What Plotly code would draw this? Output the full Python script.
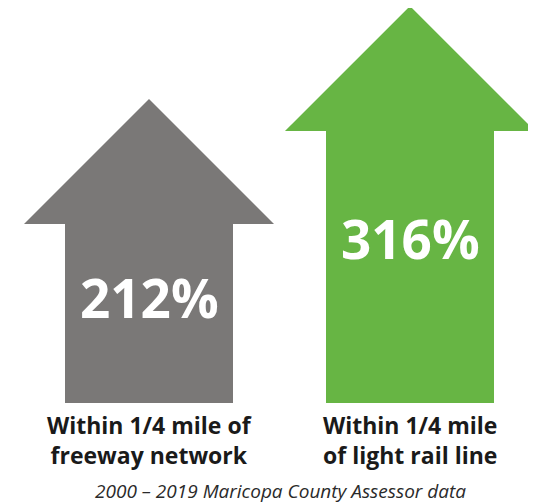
import plotly.graph_objects as go

# ---- data ----
label_line1 = ["Within 1/4 mile of", "Within 1/4 mile"]
label_line2 = ["freeway network", "of light rail line"]
values = [212, 316]                      # percent growth
value_labels = ["212%", "316%"]
colors = ["#7a7877", "#67b544"]
caption = "2000 – 2019 Maricopa County Assessor data"

# ---- geometry (styling) ----
W, H = 528, 495            # page body has an 8px margin
ARROW_BASE = -128          # value at which arrow shafts start
PX_PER_UNIT = 0.894        # vertical pixels per value unit
X_PX_PER_UNIT = 261        # horizontal pixels per category step
X0_PX = 141                # pixel centre of first category
BASE_PX = 395              # pixel row of arrow bottoms
HEAD_HALF_PX = 125
SHAFT_HALF_PX = 84

head_half = HEAD_HALF_PX / X_PX_PER_UNIT
shaft_half = SHAFT_HALF_PX / X_PX_PER_UNIT
head_h = HEAD_HALF_PX / PX_PER_UNIT

def py(px):
    return 1 - px / H

fig = go.Figure()
for i, (v, c) in enumerate(zip(values, colors)):
    hb = v - head_h
    xs = [i - shaft_half, i - shaft_half, i - head_half, i, i + head_half, i + shaft_half, i + shaft_half, i - shaft_half]
    ys = [ARROW_BASE, hb, hb, v, hb, hb, ARROW_BASE, ARROW_BASE]
    fig.add_trace(go.Scatter(x=xs, y=ys, fill="toself", fillcolor=c, mode="lines",
                             line=dict(width=0, color=c), hoverinfo="skip", showlegend=False))

# percent labels inside shafts
pct_px = [289, 230]
for i, (t, p) in enumerate(zip(value_labels, pct_px)):
    fig.add_annotation(x=i, y=py(p), yref="paper", text="<b>%s</b>" % t, showarrow=False,
                       font=dict(family="Open Sans", size=53, color="white"),
                       xanchor="center", yanchor="middle")

# category labels
for i, (l1, l2) in enumerate(zip(label_line1, label_line2)):
    fig.add_annotation(x=i, y=py(432), yref="paper", text="<b>%s<br>%s</b>" % (l1, l2),
                       showarrow=False, align="center",
                       font=dict(family="Open Sans", size=23, color="#1a1a1a"),
                       xanchor="center", yanchor="middle")

fig.add_annotation(x=272.5 / W, y=py(482.5), xref="paper", yref="paper", text="<i>%s</i>" % caption,
                   showarrow=False, font=dict(family="Open Sans", size=19, color="#2a2a2a"),
                   xanchor="center", yanchor="middle")

x0 = -X0_PX / X_PX_PER_UNIT
x1 = (W - X0_PX) / X_PX_PER_UNIT
y_bottom = ARROW_BASE - (H - BASE_PX) / PX_PER_UNIT
y_top = ARROW_BASE + BASE_PX / PX_PER_UNIT

fig.update_layout(width=W, height=H, margin=dict(l=0, r=0, t=0, b=0),
                  paper_bgcolor="white", plot_bgcolor="white",
                  xaxis=dict(range=[x0, x1], visible=False, fixedrange=True),
                  yaxis=dict(range=[y_bottom, y_top], visible=False, fixedrange=True))

fig.write_html("out.html")
